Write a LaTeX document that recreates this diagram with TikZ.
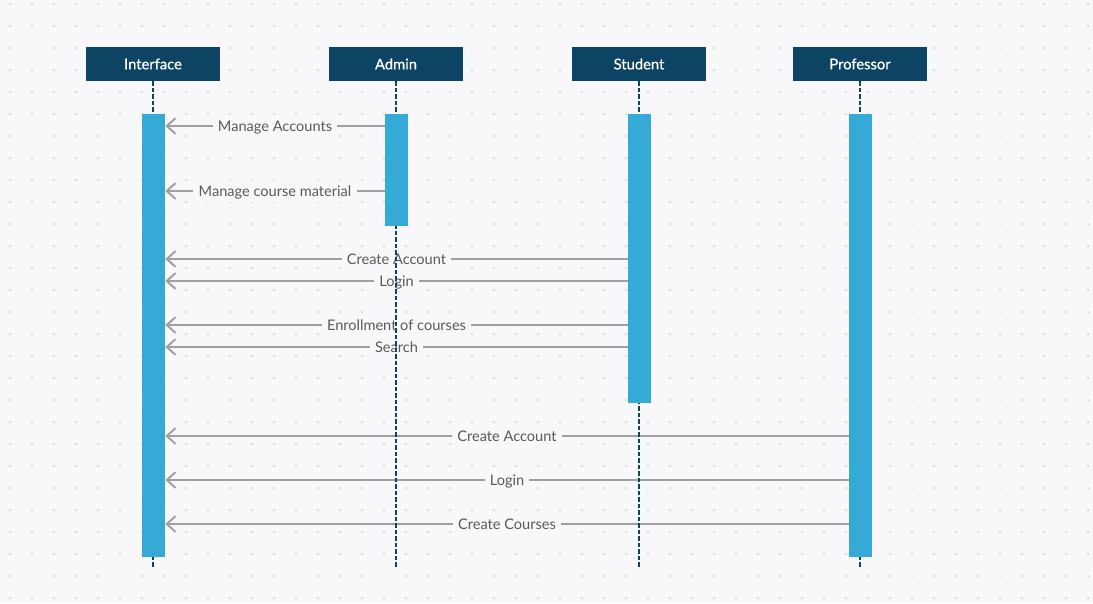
\documentclass[tikz,border=0pt]{standalone}
\usepackage{fontspec}
\setmainfont{Lato}
\newfontfamily\headfont{Lato}[FakeBold=0.6]
\usetikzlibrary{arrows.meta, positioning, backgrounds}
\definecolor{bgcol}{HTML}{F8F8FB}
\definecolor{dotcol}{HTML}{DCDDE2}
\definecolor{headcol}{HTML}{0E4463}
\definecolor{barcol}{HTML}{36AAD6}
\definecolor{msgcol}{HTML}{A0A0A0}
\definecolor{txtcol}{HTML}{5A5A5A}
\pgfdeclarelayer{msgs}
\pgfdeclarelayer{life}
\pgfsetlayers{background,msgs,life,main}

\begin{document}
\begin{tikzpicture}[x=0.02cm, y=-0.02cm,
        every node/.style = {font=\fontsize{8.3}{9}\selectfont},
        head/.style = {fill=headcol, text=white, minimum width=2.68cm, minimum height=0.68cm, inner sep=0pt,
            font=\headfont\fontsize{8.4}{9}\selectfont},
        bar/.style = {fill=barcol, minimum width=0.46cm, inner sep=0pt, anchor=north},
        life/.style = {draw=headcol, line width=1.1pt, dash pattern=on 2.5pt off 1.2pt},
        msg/.style = {draw=msgcol, line width=1.1pt, -{Straight Barb[length=5pt, width=9pt]}},
        lbl/.style = {fill=bgcol, text=txtcol, inner sep=3pt, text height=6pt, text depth=0pt}]

        % background and dot grid
        \begin{pgfonlayer}{background}
            \fill[bgcol] (0,0) rectangle (1093,603);
            \foreach \i in {0,...,49}
                \foreach \j in {0,...,27}
                    \fill[dotcol] (10+22*\i, 4+22*\j) circle (0.85pt);
        \end{pgfonlayer}
        \useasboundingbox (0,0) rectangle (1093,603);

        % heads
        \node[head] (hI) at (153, 64) {Interface};
        \node[head] (hA) at (396, 64) {Admin};
        \node[head] (hS) at (639, 64) {Student};
        \node[head] (hP) at (860, 64) {Professor};

        % activation bars
        \node[bar, minimum height=8.86cm] (bI) at (153.5, 114) {};
        \node[bar, minimum height=2.24cm] (bA) at (396.5, 114) {};
        \node[bar, minimum height=5.78cm] (bS) at (639.5, 114) {};
        \node[bar, minimum height=8.86cm] (bP) at (860.5, 114) {};

        % lifeline ends
        \coordinate (eI) at (153, 568);
        \coordinate (eA) at (396, 568);
        \coordinate (eS) at (639, 568);
        \coordinate (eP) at (860, 568);

        \begin{pgfonlayer}{life}
            \draw[life] (hI.south) -- (eI);
            \draw[life] (hA.south) -- (eA);
            \draw[life] (hS.south) -- (eS);
            \draw[life] (hP.south) -- (eP);
        \end{pgfonlayer}

        % messages
        \begin{pgfonlayer}{msgs}
            \draw[msg] (bA.west |- 0,126) -- node[lbl] {Manage Accounts} (bI.east |- 0,126);
            \draw[msg] (bA.west |- 0,191) -- node[lbl] {Manage course material} (bI.east |- 0,191);

            \draw[msg] (bS.west |- 0,259) -- node[lbl] {Create Account} (bI.east |- 0,259);
            \draw[msg] (bS.west |- 0,281) -- node[lbl] {Login} (bI.east |- 0,281);
            \draw[msg] (bS.west |- 0,325) -- node[lbl] {Enrollment of courses} (bI.east |- 0,325);
            \draw[msg] (bS.west |- 0,347) -- node[lbl] {Search} (bI.east |- 0,347);

            \draw[msg] (bP.west |- 0,436) -- node[lbl] {Create Account} (bI.east |- 0,436);
            \draw[msg] (bP.west |- 0,480) -- node[lbl] {Login} (bI.east |- 0,480);
            \draw[msg] (bP.west |- 0,524) -- node[lbl] {Create Courses} (bI.east |- 0,524);
        \end{pgfonlayer}
    \end{tikzpicture}
\end{document}
